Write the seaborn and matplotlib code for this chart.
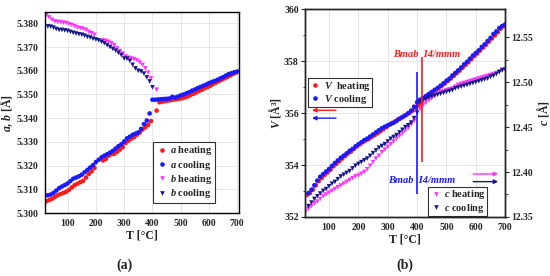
import numpy as np
import pandas as pd
import matplotlib
matplotlib.use("Agg")
import matplotlib.pyplot as plt
import seaborn as sns

# ---------------- data (a) ----------------
T_a_heat = [25, 35, 45, 55, 65, 75, 85, 95, 105, 115, 125, 135, 145, 155, 165, 175, 185, 195,
            225, 235, 245, 255, 265, 275, 285, 295, 305, 315, 325, 335, 345, 355, 365, 375, 385, 395,
            415, 425, 435, 445, 455, 465, 475, 485, 495, 505, 515, 525, 535, 545, 555, 565, 575, 585,
            595, 605, 615, 625, 635, 645, 655, 665, 675, 685, 695]
a_heat = [5.3050, 5.3055, 5.3060, 5.3068, 5.3075, 5.3080, 5.3085, 5.3090, 5.3098, 5.3108, 5.3118,
          5.3124, 5.3130, 5.3136, 5.3150, 5.3165, 5.3176, 5.3190,
          5.3222, 5.3228, 5.3242, 5.3248, 5.3250, 5.3258, 5.3268, 5.3278, 5.3295, 5.3305, 5.3313,
          5.3320, 5.3330, 5.3340, 5.3352, 5.3362, 5.3372, 5.3388,
          5.3432, 5.3467, 5.3470, 5.3472, 5.3474, 5.3476, 5.3478, 5.3480, 5.3482, 5.3484, 5.3488,
          5.3492, 5.3498, 5.3503, 5.3509, 5.3515, 5.3520, 5.3526, 5.3531, 5.3537, 5.3544, 5.3550,
          5.3556, 5.3562, 5.3568, 5.3574, 5.3580, 5.3586, 5.3592]

T_a_cool = [30, 40, 50, 60, 70, 80, 90, 100, 110, 120, 130, 140, 150, 160, 170, 180, 190, 200,
            210, 220, 230, 240, 250, 260, 270, 280, 290, 300, 310, 320, 330, 340, 350, 360, 370,
            380, 390, 400, 410, 420, 430, 440, 450, 460, 470, 480, 490, 500, 510, 520, 530, 540,
            550, 560, 570, 580, 590, 600, 610, 620, 630, 640, 650, 660, 670, 680, 690, 700]
a_cool = [5.3075, 5.3078, 5.3085, 5.3095, 5.3105, 5.3112, 5.3118, 5.3125, 5.3135, 5.3145, 5.3150,
          5.3155, 5.3162, 5.3172, 5.3182, 5.3192, 5.3202, 5.3215, 5.3225, 5.3235, 5.3242, 5.3248,
          5.3255, 5.3262, 5.3272, 5.3282, 5.3290, 5.3302, 5.3315, 5.3322, 5.3330, 5.3335, 5.3340,
          5.3355, 5.3375, 5.3390, 5.3420, 5.3478, 5.3478, 5.3479, 5.3480, 5.3481, 5.3482, 5.3483,
          5.3490, 5.3487, 5.3491, 5.3496, 5.3500, 5.3505, 5.3510, 5.3516, 5.3521, 5.3527, 5.3532,
          5.3537, 5.3542, 5.3548, 5.3553, 5.3557, 5.3562, 5.3568, 5.3573, 5.3580, 5.3586, 5.3590,
          5.3594, 5.3597]

T_b_heat = [25, 35, 45, 55, 65, 75, 85, 95, 105, 115, 125, 135, 145, 155, 165, 175, 185, 195,
            225, 235, 245, 255, 265, 275, 285, 295, 305, 315, 325, 335, 345, 355, 365, 375, 385, 395, 415]
b_heat = [5.3834, 5.3825, 5.3815, 5.3808, 5.3806, 5.3805, 5.3803, 5.3801, 5.3797, 5.3793, 5.3788,
          5.3782, 5.3779, 5.3777, 5.3772, 5.3764, 5.3758, 5.3752,
          5.3728, 5.3726, 5.3722, 5.3716, 5.3708, 5.3694, 5.3683, 5.3672, 5.3660, 5.3655, 5.3652,
          5.3648, 5.3644, 5.3635, 5.3625, 5.3610, 5.3592, 5.3568, 5.3520]

T_b_cool = [30, 40, 50, 60, 70, 80, 90, 100, 110, 120, 130, 140, 150, 160, 170, 180, 190, 200,
            210, 220, 230, 240, 250, 260, 270, 280, 290, 300, 310, 320, 330, 340, 350, 360, 370,
            380, 390, 400]
b_cool = [5.3787, 5.3786, 5.3782, 5.3776, 5.3772, 5.3772, 5.3770, 5.3768, 5.3764, 5.3760, 5.3757,
          5.3754, 5.3752, 5.3748, 5.3743, 5.3740, 5.3735, 5.3732, 5.3728, 5.3722, 5.3716, 5.3708,
          5.3700, 5.3692, 5.3685, 5.3676, 5.3666, 5.3652, 5.3651, 5.3642, 5.3625, 5.3610, 5.3600,
          5.3597, 5.3588, 5.3572, 5.3555, 5.3530]

# ---------------- data (b) ----------------
T_V_heat = [25, 35, 45, 55, 65, 75, 85, 95, 105, 115, 125, 135, 145, 155, 165, 175, 185, 195,
            205, 215, 225, 235, 245, 255, 265, 275, 285, 295, 305, 315, 325, 335, 345, 355, 365,
            375, 385, 395, 405, 415, 425, 435, 445, 455, 465, 475, 485, 495, 505, 515, 525, 535,
            545, 555, 565, 575, 585, 595, 605, 615, 625, 635, 645, 655, 665, 675, 685, 695]
V_heat = [352.85, 352.92, 353.05, 353.22, 353.38, 353.50, 353.62, 353.72, 353.82, 353.95, 354.05,
          354.15, 354.25, 354.35, 354.45, 354.52, 354.62, 354.72, 354.80, 354.88, 354.95, 355.00,
          355.08, 355.15, 355.22, 355.30, 355.38, 355.46, 355.55, 355.62, 355.68, 355.76, 355.82,
          355.88, 355.95, 356.02, 356.10, 356.20, 356.30, 356.40, 356.60, 356.68, 356.75, 356.82,
          356.90, 356.98, 357.06, 357.15, 357.24, 357.34, 357.44, 357.54, 357.64, 357.75, 357.86,
          357.96, 358.08, 358.20, 358.30, 358.42, 358.53, 358.64, 358.76, 358.88, 359.00, 359.12,
          359.26, 359.36]

T_V_cool = [30, 40, 50, 60, 70, 80, 90, 100, 110, 120, 130, 140, 150, 160, 170, 180, 190, 200,
            210, 220, 230, 240, 250, 260, 270, 280, 290, 300, 310, 320, 330, 340, 350, 360, 370,
            380, 390, 400, 410, 420, 430, 440, 450, 460, 470, 480, 490, 500, 510, 520, 530, 540,
            550, 560, 570, 580, 590, 600, 610, 620, 630, 640, 650, 660, 670, 680, 690, 700]
V_cool = [352.92, 353.05, 353.22, 353.40, 353.55, 353.65, 353.75, 353.85, 353.97, 354.08, 354.18,
          354.28, 354.36, 354.45, 354.55, 354.62, 354.72, 354.80, 354.88, 354.96, 355.02, 355.10,
          355.18, 355.26, 355.34, 355.42, 355.48, 355.53, 355.58, 355.63, 355.70, 355.78, 355.85,
          355.92, 356.00, 356.10, 356.25, 356.42, 356.52, 356.58, 356.66, 356.74, 356.82, 356.90,
          356.97, 357.06, 357.15, 357.25, 357.33, 357.45, 357.55, 357.65, 357.76, 357.88, 357.98,
          358.10, 358.22, 358.32, 358.42, 358.55, 358.65, 358.78, 358.90, 359.05, 359.15, 359.28,
          359.36, 359.42]

T_c_heat = [20, 30, 40, 50, 60, 70, 80, 90, 100, 110, 120, 130, 140, 150, 160, 170, 180, 190, 200,
            210, 220, 230, 240, 250, 260, 270, 280, 290, 300, 310, 320, 330, 340, 350, 360, 370,
            380, 390, 410, 420, 430, 440, 450, 460, 470, 480, 490, 500, 510, 520, 530, 540, 550,
            560, 570, 580, 590, 600, 610, 620, 630, 640, 650, 660, 670, 680, 690]
c_heat = [12.356, 12.359, 12.362, 12.365, 12.367, 12.370, 12.373, 12.375, 12.377, 12.379, 12.381,
          12.383, 12.385, 12.387, 12.389, 12.391, 12.393, 12.395, 12.396, 12.398, 12.400, 12.403,
          12.407, 12.411, 12.415, 12.418, 12.422, 12.425, 12.428, 12.431, 12.434, 12.437, 12.440,
          12.443, 12.446, 12.449, 12.453, 12.457, 12.470, 12.474, 12.477, 12.480, 12.482, 12.485,
          12.487, 12.489, 12.490, 12.491, 12.492, 12.493, 12.495, 12.497, 12.498, 12.499, 12.500,
          12.501, 12.502, 12.503, 12.504, 12.505, 12.506, 12.507, 12.508, 12.509, 12.510, 12.512,
          12.514]

T_c_cool = [30, 40, 50, 60, 70, 80, 90, 100, 110, 120, 130, 140, 150, 160, 170, 180, 190, 200,
            210, 220, 230, 240, 250, 260, 270, 280, 290, 300, 310, 320, 330, 340, 350, 360, 370,
            380, 390, 400, 410, 420, 430, 440, 450, 460, 470, 480, 490, 500, 510, 520, 530, 540,
            550, 560, 570, 580, 590, 600, 610, 620, 630, 640, 650, 660, 670, 680, 690, 700]
c_cool = [12.362, 12.366, 12.370, 12.373, 12.376, 12.379, 12.381, 12.384, 12.387, 12.389, 12.392,
          12.395, 12.397, 12.399, 12.401, 12.404, 12.407, 12.409, 12.411, 12.413, 12.415, 12.418,
          12.421, 12.424, 12.427, 12.429, 12.431, 12.434, 12.437, 12.439, 12.441, 12.444, 12.447,
          12.450, 12.452, 12.455, 12.460, 12.466, 12.478, 12.480, 12.481, 12.483, 12.484, 12.485,
          12.486, 12.487, 12.488, 12.489, 12.490, 12.491, 12.493, 12.494, 12.495, 12.496, 12.497,
          12.498, 12.499, 12.500, 12.501, 12.502, 12.503, 12.504, 12.506, 12.507, 12.509, 12.511,
          12.513, 12.514]

x_ticks = [100, 200, 300, 400, 500, 600, 700]
a_yticks = [5.300, 5.310, 5.320, 5.330, 5.340, 5.350, 5.360, 5.370, 5.380]
V_yticks = [352, 354, 356, 358, 360]
c_yticks = [12.35, 12.40, 12.45, 12.50, 12.55]
phase_label = "Bmab  I4/mmm"

# ---------------- style ----------------
sns.set_style("white")
plt.rcParams["font.family"] = ["Liberation Serif", "DejaVu Serif"]
plt.rcParams["font.weight"] = "bold"
plt.rcParams["axes.labelweight"] = "bold"
plt.rcParams["mathtext.fontset"] = "custom"
plt.rcParams["mathtext.rm"] = "Liberation Serif:bold"
plt.rcParams["mathtext.it"] = "Liberation Serif:italic:bold"
plt.rcParams["mathtext.bf"] = "Liberation Serif:bold"

RED = "#ff1a1a"
BLUE = "#1a1aff"
MAG = "#ff33ff"
NAVY = "#14148c"
TICKFS = 7
LABFS = 8.5
LEGFS = 7.5
MS = 11

def df_of(T, v, name):
    return pd.DataFrame({"T": T, "val": v, "series": name})

fig = plt.figure(figsize=(5.5, 2.76), dpi=100)
ax1 = fig.add_axes([0.0818, 0.228, 0.3527, 0.727])
ax2 = fig.add_axes([0.5545, 0.214, 0.364, 0.752])

def style_axis(ax):
    for s in ax.spines.values():
        s.set_linewidth(1.0)
        s.set_color("black")
    ax.grid(True, color="#e3e3e3", linewidth=0.6)
    ax.set_axisbelow(True)
    ax.tick_params(axis="both", which="major", direction="out", length=3, width=0.8,
                   labelsize=TICKFS, pad=1.5)
    ax.tick_params(axis="both", which="minor", direction="out", length=1.8, width=0.6)

leg_kw = dict(fontsize=LEGFS, frameon=True, fancybox=False, edgecolor="black",
              borderpad=0.25, labelspacing=0.12, handletextpad=0.2, handlelength=1.2,
              borderaxespad=0)
leg_kw_small = dict(leg_kw, borderpad=0.12, labelspacing=0.02)

# ---- panel (a) ----
dfa = pd.concat([df_of(T_a_heat, a_heat, "$a$ heating"),
                 df_of(T_a_cool, a_cool, "$a$ cooling"),
                 df_of(T_b_heat, b_heat, "$b$ heating"),
                 df_of(T_b_cool, b_cool, "$b$ cooling")])
pal_a = {"$a$ heating": RED, "$a$ cooling": BLUE, "$b$ heating": MAG, "$b$ cooling": NAVY}
mk_a = {"$a$ heating": "o", "$a$ cooling": "o", "$b$ heating": "v", "$b$ cooling": "v"}
sns.scatterplot(data=dfa, x="T", y="val", hue="series", style="series", palette=pal_a,
                markers=mk_a, s=MS, linewidth=0, ax=ax1, legend=True)
ax1.set_xlim(20, 706)
ax1.set_ylim(5.300, 5.3846)
ax1.set_xticks(x_ticks)
ax1.set_yticks(a_yticks)
ax1.set_yticklabels([f"{v:.3f}" for v in a_yticks])
ax1.set_xticks([50, 150, 250, 350, 450, 550, 650], minor=True)
ax1.set_yticks([5.305, 5.315, 5.325, 5.335, 5.345, 5.355, 5.365, 5.375], minor=True)
ax1.set_xlabel("T [°C]", fontsize=LABFS, labelpad=1)
ax1.set_ylabel("$a$, $b$ [Å]", fontsize=LABFS, labelpad=1)
style_axis(ax1)
leg = ax1.legend(loc="upper left", bbox_to_anchor=(0.557, 0.355), **leg_kw)
leg.get_frame().set_linewidth(0.8)

# ---- panel (b) ----
axc = ax2.twinx()
dfV = pd.concat([df_of(T_V_heat, V_heat, "$V$  heating"),
                 df_of(T_V_cool, V_cool, "$V$ cooling")])
dfc = pd.concat([df_of(T_c_heat, c_heat, "$c$ heating"),
                 df_of(T_c_cool, c_cool, "$c$ cooling")])
sns.scatterplot(data=dfc, x="T", y="val", hue="series", style="series",
                palette={"$c$ heating": MAG, "$c$ cooling": NAVY},
                markers={"$c$ heating": "v", "$c$ cooling": "v"}, s=MS, linewidth=0,
                ax=axc, legend=True)
sns.scatterplot(data=dfV, x="T", y="val", hue="series",
                palette={"$V$  heating": RED, "$V$ cooling": BLUE}, s=MS, linewidth=0,
                ax=ax2, legend=True, zorder=3)

ax2.set_xlim(18, 700)
ax2.set_ylim(352, 360)
axc.set_ylim(12.35, 12.581)
ax2.set_xticks(x_ticks)
ax2.set_yticks(V_yticks)
ax2.set_yticks([353, 355, 357, 359], minor=True)
ax2.set_xticks([50, 150, 250, 350, 450, 550, 650], minor=True)
axc.set_yticks(c_yticks)
axc.set_yticklabels([f"{v:.2f}" for v in c_yticks])
axc.set_yticks([12.375, 12.425, 12.475, 12.525], minor=True)
ax2.set_xlabel("T [°C]", fontsize=LABFS, labelpad=1)
ax2.set_ylabel("$V$ [Å³]", fontsize=LABFS, labelpad=1)
axc.set_ylabel("$c$ [Å]", fontsize=LABFS, labelpad=1)
style_axis(ax2)
axc.grid(False)
axc.tick_params(axis="y", which="major", direction="out", length=3, width=0.8,
                labelsize=TICKFS, pad=1.5)
axc.tick_params(axis="y", which="minor", direction="out", length=1.8, width=0.6)
for s in axc.spines.values():
    s.set_linewidth(1.0)

# phase transition lines & labels (in V-axis data coordinates, drawn on top axes)
tV = ax2.transData
axc.vlines(400, 352.9, 357.6, color=BLUE, linewidth=1.2, zorder=4, transform=tV)
axc.vlines(417, 354.1, 358.15, color=RED, linewidth=1.2, zorder=4, transform=tV)
axc.text(434, 358.27, phase_label, color=RED, fontsize=7.5, fontstyle="italic",
         fontweight="bold", ha="center", va="center", transform=tV)
axc.text(414, 353.4, phase_label, color=BLUE, fontsize=7.5, fontstyle="italic",
         fontweight="bold", ha="center", va="center", transform=tV)

# arrows
def arrow(ax, x0, x1, y, c):
    ax.annotate("", xy=(x1, y), xytext=(x0, y), xycoords="axes fraction",
                arrowprops=dict(arrowstyle="-|>", color=c, lw=1.0, mutation_scale=6,
                                shrinkA=0, shrinkB=0), zorder=6)

arrow(axc, 0.155, 0.035, 0.514, RED)
arrow(axc, 0.155, 0.035, 0.476, BLUE)
arrow(axc, 0.84, 0.965, 0.207, MAG)
arrow(axc, 0.84, 0.965, 0.17, NAVY)

legV = ax2.legend(loc="upper left", bbox_to_anchor=(0.015, 0.668), **leg_kw_small)
legV.get_frame().set_linewidth(0.8)
legV.remove()
axc.add_artist(legV)
legc = axc.legend(loc="upper left", bbox_to_anchor=(0.615, 0.144), **leg_kw_small)
legc.get_frame().set_linewidth(0.8)

fig.text(0.227, 0.04, "(a)", fontsize=10, ha="center", va="center")
fig.text(0.736, 0.04, "(b)", fontsize=10, ha="center", va="center")

fig.savefig("out.png", dpi=100)
